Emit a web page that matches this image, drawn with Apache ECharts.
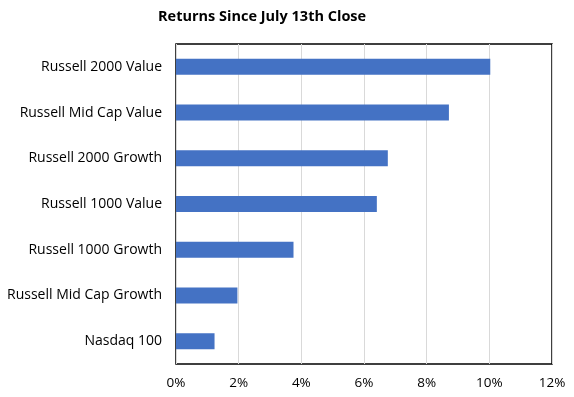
<!DOCTYPE html>
<html>
<head>
<meta charset="utf-8">
<script src="https://cdn.jsdelivr.net/npm/echarts@6/dist/echarts.min.js"></script>
<style>
    html, body { margin: 0; padding: 0; background: #fff; }
    .chart1 { width: 574px; height: 397px; }
</style>
</head>
<body>
<div class="chart1"></div>
<script>
var categories = ['Russell 2000 Value', 'Russell Mid Cap Value', 'Russell 2000 Growth', 'Russell 1000 Value', 'Russell 1000 Growth', 'Russell Mid Cap Growth', 'Nasdaq 100'];
var returns = [10.03, 8.71, 6.76, 6.41, 3.75, 1.96, 1.23];
var xTicks = [0, 2, 4, 6, 8, 10, 12];

var myChart1;
function initChart1() {
    var chartDom = document.querySelector('.chart1');
    myChart1 = echarts.init(chartDom);
    var option;

    option = {
        animation: false,
        title: {
            text: 'Returns Since July 13th Close',
            left: 158,
            top: 9,
            padding: 0,
            textStyle: {
                fontFamily: 'Open Sans',
                fontSize: 14.5,
                fontWeight: 'bold',
                color: '#000'
            }
        },
        grid: {
            left: 176,
            right: 22,
            top: 44,
            bottom: 33,
            show: true,
            borderColor: '#000',
            borderWidth: 1.5
        },
        xAxis: {
            type: 'value',
            min: xTicks[0],
            max: xTicks[xTicks.length - 1],
            interval: 2,
            axisLine: { show: false },
            axisTick: { show: false },
            splitLine: { lineStyle: { color: '#d9d9d9' } },
            axisLabel: {
                margin: 12,
                color: '#000',
                fontFamily: 'Open Sans',
                fontSize: 13.5,
                formatter: function (value) {
                    return value + '%';
                }
            }
        },
        yAxis: {
            type: 'category',
            inverse: true,
            data: categories,
            axisLine: { show: false },
            axisTick: { show: false },
            axisLabel: {
                margin: 14,
                color: '#000',
                fontFamily: 'Open Sans',
                fontSize: 14
            }
        },
        series: [
            {
                type: 'bar',
                data: returns,
                barWidth: '35%',
                itemStyle: { color: '#4472c4' }
            }
        ]
    };

    option && myChart1.setOption(option);
}

initChart1();
</script>
</body>
</html>
